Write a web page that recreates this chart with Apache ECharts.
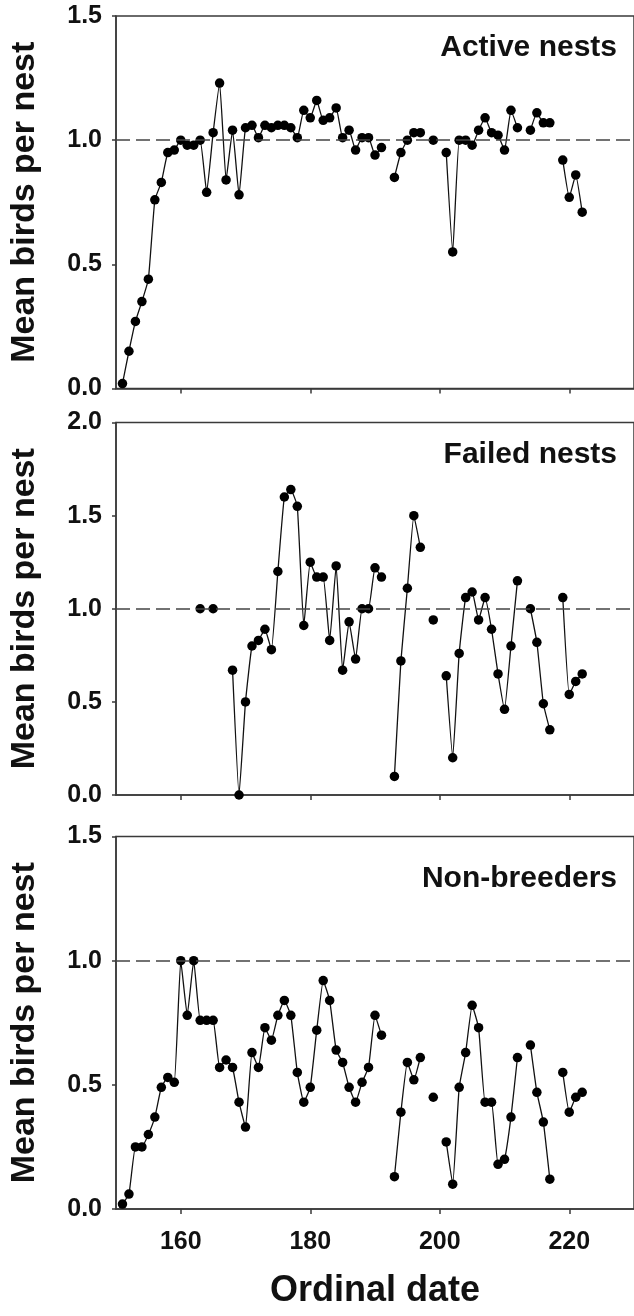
<!DOCTYPE html>
<html>
<head>
<meta charset="utf-8">
<title>Mean birds per nest</title>
<script src="https://cdn.jsdelivr.net/npm/echarts@6/dist/echarts.min.js"></script>
<style>
  html, body { margin: 0; padding: 0; background: #fff; }
  #main { width: 634px; height: 1316px; }
</style>
</head>
<body>
<div id="main"></div>
<script>
// ordinal dates, one per day (null = no value that day)
var days = [151, 152, 153, 154, 155, 156, 157, 158, 159, 160,
            161, 162, 163, 164, 165, 166, 167, 168, 169, 170,
            171, 172, 173, 174, 175, 176, 177, 178, 179, 180,
            181, 182, 183, 184, 185, 186, 187, 188, 189, 190,
            191, 192, 193, 194, 195, 196, 197, 198, 199, 200,
            201, 202, 203, 204, 205, 206, 207, 208, 209, 210,
            211, 212, 213, 214, 215, 216, 217, 218, 219, 220,
            221, 222];

var activeNests = [0.02, 0.15, 0.27, 0.35, 0.44, 0.76, 0.83, 0.95, 0.96, 1.00,
                   0.98, 0.98, 1.00, 0.79, 1.03, 1.23, 0.84, 1.04, 0.78, 1.05,
                   1.06, 1.01, 1.06, 1.05, 1.06, 1.06, 1.05, 1.01, 1.12, 1.09,
                   1.16, 1.08, 1.09, 1.13, 1.01, 1.04, 0.96, 1.01, 1.01, 0.94,
                   0.97, null, 0.85, 0.95, 1.00, 1.03, 1.03, null, 1.00, null,
                   0.95, 0.55, 1.00, 1.00, 0.98, 1.04, 1.09, 1.03, 1.02, 0.96,
                   1.12, 1.05, null, 1.04, 1.11, 1.07, 1.07, null, 0.92, 0.77,
                   0.86, 0.71];

var failedNests = [null, null, null, null, null, null, null, null, null, null,
                   null, null, 1.00, null, 1.00, null, null, 0.67, 0.00, 0.50,
                   0.80, 0.83, 0.89, 0.78, 1.20, 1.60, 1.64, 1.55, 0.91, 1.25,
                   1.17, 1.17, 0.83, 1.23, 0.67, 0.93, 0.73, 1.00, 1.00, 1.22,
                   1.17, null, 0.10, 0.72, 1.11, 1.50, 1.33, null, 0.94, null,
                   0.64, 0.20, 0.76, 1.06, 1.09, 0.94, 1.06, 0.89, 0.65, 0.46,
                   0.80, 1.15, null, 1.00, 0.82, 0.49, 0.35, null, 1.06, 0.54,
                   0.61, 0.65];

var nonBreeders = [0.02, 0.06, 0.25, 0.25, 0.30, 0.37, 0.49, 0.53, 0.51, 1.00,
                   0.78, 1.00, 0.76, 0.76, 0.76, 0.57, 0.60, 0.57, 0.43, 0.33,
                   0.63, 0.57, 0.73, 0.68, 0.78, 0.84, 0.78, 0.55, 0.43, 0.49,
                   0.72, 0.92, 0.84, 0.64, 0.59, 0.49, 0.43, 0.51, 0.57, 0.78,
                   0.70, null, 0.13, 0.39, 0.59, 0.52, 0.61, null, 0.45, null,
                   0.27, 0.10, 0.49, 0.63, 0.82, 0.73, 0.43, 0.43, 0.18, 0.20,
                   0.37, 0.61, null, 0.66, 0.47, 0.35, 0.12, null, 0.55, 0.39,
                   0.45, 0.47];

var xTicks = [160, 180, 200, 220];
var panelNames = ['Active nests', 'Failed nests', 'Non-breeders'];
var panelMax = [1.5, 2.0, 1.5];
var panelValues = [activeNests, failedNests, nonBreeders];

var font = '"Liberation Sans", Arial, sans-serif';
var axisColor = '#3a3a3a';

var myChart = echarts.init(document.getElementById('main'));

var gridTops = [16, 422.5, 836.5];
var titleTops = [28, 435, 859];
var grids = [], xAxes = [], yAxes = [], series = [], titles = [];

function toPairs(values) {
    return days.map(function (d, i) {
        return [d, values[i] === null ? '-' : values[i]];
    });
}

for (var i = 0; i < 3; i++) {
    var isLast = (i === 2);
    grids.push({
        left: 115,
        right: -3,
        top: gridTops[i],
        height: 372.5,
        show: true,
        borderColor: axisColor,
        borderWidth: 1.5
    });
    xAxes.push({
        type: 'value',
        gridIndex: i,
        min: 150,
        max: 230,
        splitLine: { show: false },
        axisLine: { lineStyle: { color: axisColor, width: 1.5 } },
        axisTick: { show: true, inside: false, length: 5, customValues: xTicks,
                    lineStyle: { color: axisColor, width: 1.5 } },
        axisLabel: { show: isLast, customValues: xTicks, margin: 21,
                     fontFamily: font, fontWeight: 'bold', fontSize: 25, color: '#111' },
        name: isLast ? 'Ordinal date' : '',
        nameLocation: 'middle',
        nameGap: 64,
        nameTextStyle: { fontFamily: font, fontWeight: 'bold', fontSize: 36, color: '#111' }
    });
    yAxes.push({
        type: 'value',
        gridIndex: i,
        min: 0,
        max: panelMax[i],
        interval: 0.5,
        splitLine: { show: false },
        axisLine: { show: true, lineStyle: { color: axisColor, width: 1.5 } },
        axisTick: { show: true, length: 4, lineStyle: { color: axisColor, width: 1.5 } },
        axisLabel: {
            margin: 14,
            fontFamily: font, fontWeight: 'bold', fontSize: 25, color: '#111',
            formatter: function (v) { return v.toFixed(1); }
        },
        name: 'Mean birds per nest',
        nameLocation: 'middle',
        nameGap: 74,
        nameTextStyle: { fontFamily: font, fontWeight: 'bold', fontSize: 34, color: '#111' }
    });
    titles.push({
        text: panelNames[i],
        right: 12,
        top: titleTops[i],
        textStyle: { fontFamily: font, fontWeight: 'bold', fontSize: 30, color: '#111' }
    });
    series.push({
        type: 'line',
        xAxisIndex: i,
        yAxisIndex: i,
        data: toPairs(panelValues[i]),
        connectNulls: false,
        smooth: 0.12,
        symbol: 'circle',
        symbolSize: 9.5,
        showSymbol: true,
        itemStyle: { color: '#000' },
        lineStyle: { color: '#111', width: 1.3 },
        markLine: {
            silent: true,
            symbol: 'none',
            label: { show: false },
            lineStyle: { color: '#444', type: [14, 6], width: 1.5 },
            data: [{ yAxis: 1 }]
        },
        z: 3
    });
}

var option = {
    animation: false,
    backgroundColor: '#fff',
    title: titles,
    grid: grids,
    xAxis: xAxes,
    yAxis: yAxes,
    series: series
};
myChart.setOption(option);
</script>
</body>
</html>
